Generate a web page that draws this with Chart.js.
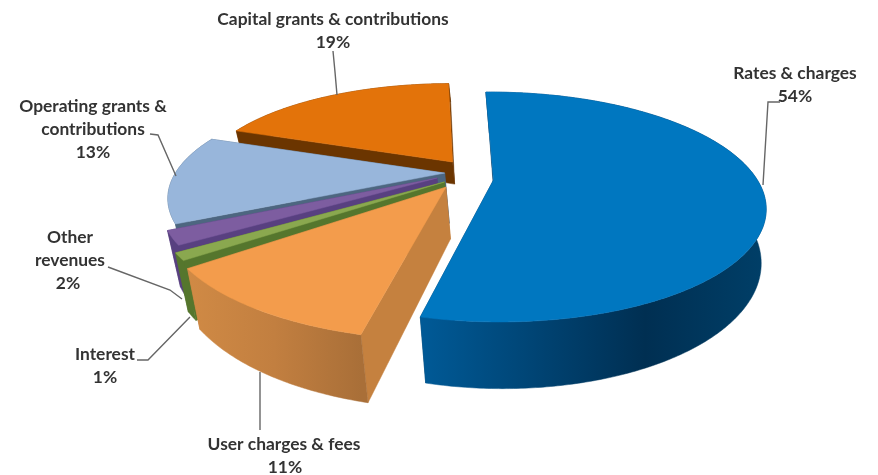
<!DOCTYPE html>
<html>
<head>
<meta charset="utf-8">
<style>
  html, body { margin: 0; background: #fff; }
  canvas { display: block; filter: blur(0.45px); }
</style>
<script src="https://cdn.jsdelivr.net/npm/chart.js@4/dist/chart.umd.min.js"></script>
</head>
<body>
<canvas id="pie" width="878" height="475"></canvas>
<script>
const categories = ["Rates & charges", "User charges & fees", "Interest", "Other revenues", "Operating grants & contributions", "Capital grants & contributions"];
const shares = [54, 11, 1, 2, 13, 19];

const topColors = ["#0077c0", "#f39c4c", "#8aa84f", "#7d5da0", "#98b6db", "#e3730a"];
const cutColors = ["#003a63", "#c5813f", "#55762d", "#584080", "#4d6680", "#6b3500"];
const wallStops = [
  ["#005a97", "#002f52", "#003f68"],
  ["#d08a45", "#c27f40", "#a96f38"],
  ["#55762d", "#55762d", "#55762d"],
  ["#584080", "#584080", "#584080"],
  ["#4d6680", "#4d6680", "#4d6680"],
  ["#6b3500", "#6b3500", "#6b3500"]
];

// how far each slice is pulled out, in pie radii, and its radii
const pullX = [0.16, -0.015, -0.02, -0.048, -0.02, 0.01];
const pullY = [0, 0.065, 0.018, -0.018, -0.065, -0.172];
const radiusX = [0.97, 0.995, 1.02, 0.99, 1.005, 0.95];
const radiusY = [1, 1.03, 1.02, 0.99, 0.985, 0.95];
const skew = [-0.02, 0, 0, 0, 0, 0];
const wallDepth = [1, 1, 1, 1, 1, 0.45];
const paintOrder = [5, 4, 3, 2, 1, 0];

// label text blocks, the percent goes on the line after them
const labelLines = [
  ["Rates & charges"],
  ["User charges & fees"],
  ["Interest"],
  ["Other", "revenues"],
  ["Operating grants &", "contributions"],
  ["Capital grants & contributions"]
];
const labelX = [795, 284, 105, 70, 93, 333];
const labelY = [73, 444, 354, 237, 106, 19];
const percentX = [795, 285, 105, 68, 93, 333];
const leaders = [
  [[780, 102], [768, 102], [763, 185]],
  [[260, 430], [260, 372]],
  [[137, 360], [148, 360], [190, 317]],
  [[108, 267], [170, 290], [182, 299]],
  [[150, 134], [158, 135], [176, 176]],
  [[333, 51], [335, 72], [337, 95]]
];

const cx = 450, cy = 180, rx = 272, ry = 108.6, tilt = 0.235, depth = 51;
const bottomShrink = 0.97, shrinkAboutX = 600;

function project(ux, uy, lowBy) {
  const w = 1 - tilt * uy;
  let sx = cx + rx * ux / w;
  if (lowBy) sx = shrinkAboutX + (sx - shrinkAboutX) * (1 - (1 - bottomShrink) * lowBy);
  return [sx, cy + ry * uy / w + depth * lowBy / w];
}

function path(ctx, pts, fill) {
  ctx.beginPath();
  pts.forEach((p, i) => (i ? ctx.lineTo(p[0], p[1]) : ctx.moveTo(p[0], p[1])));
  ctx.closePath();
  ctx.fillStyle = fill;
  ctx.strokeStyle = fill;
  ctx.lineWidth = 0.5;
  ctx.fill();
  ctx.stroke();
}

const pie3d = {
  id: "pie3d",
  // the library works out the arcs, this only projects them
  beforeDatasetDraw(chart) {
    const ctx = chart.ctx;
    const arcs = chart.getDatasetMeta(0).data;
    ctx.save();
    paintOrder.forEach((i) => {
      const arc = arcs[i];
      const ox = pullX[i], oy = pullY[i];
      const n = Math.max(2, Math.ceil((arc.endAngle - arc.startAngle) * 90));
      const rim = [];
      for (let k = 0; k <= n; k++) {
        const a = arc.startAngle + (arc.endAngle - arc.startAngle) * k / n;
        rim.push([ox + radiusX[i] * Math.cos(a) + skew[i] * Math.sin(a), oy + radiusY[i] * Math.sin(a)]);
      }
      const hub = [ox, oy];
      const up = (p) => project(p[0], p[1], 0);
      const low = (p) => project(p[0], p[1], wallDepth[i]);
      const first = rim[0], last = rim[n];

      path(ctx, [up(hub), up(last), low(last), low(hub)], cutColors[i]);
      path(ctx, [up(hub), up(first), low(first), low(hub)], cutColors[i]);

      const xs = rim.map((p) => up(p)[0]);
      const x0 = Math.min(...xs), x1 = Math.max(...xs);
      const grad = ctx.createLinearGradient(x0, 0, x1, 0);
      wallStops[i].forEach((c, s) => grad.addColorStop(i === 0 && s === 1 ? 0.65 : s / 2, c));
      path(ctx, rim.map(up).concat(rim.slice().reverse().map(low)), grad);

      path(ctx, [up(hub)].concat(rim.map(up)), arc.options.backgroundColor);
    });
    ctx.restore();
    return false;
  },
  afterDatasetsDraw(chart) {
    const ctx = chart.ctx;
    ctx.save();
    ctx.strokeStyle = "#666";
    ctx.lineWidth = 1.4;
    leaders.forEach((line) => {
      ctx.beginPath();
      line.forEach((p, i) => (i ? ctx.lineTo(p[0], p[1]) : ctx.moveTo(p[0], p[1])));
      ctx.stroke();
    });
    ctx.font = "bold 17.4px Lato";
    ctx.fillStyle = "#333";
    ctx.textAlign = "center";
    ctx.textBaseline = "middle";
    labelLines.forEach((lines, i) => {
      lines.forEach((t, j) => ctx.fillText(t, labelX[i], labelY[i] + j * 23));
      ctx.fillText(shares[i] + "%", percentX[i], labelY[i] + lines.length * 23);
    });
    ctx.restore();
  }
};

new Chart(document.getElementById("pie"), {
  type: "pie",
  data: {
    labels: categories,
    datasets: [{ data: shares, backgroundColor: topColors, borderWidth: 0 }]
  },
  options: {
    responsive: false,
    animation: false,
    rotation: -1,
    plugins: { legend: { display: false }, tooltip: { enabled: false } }
  },
  plugins: [pie3d]
});
</script>
</body>
</html>
